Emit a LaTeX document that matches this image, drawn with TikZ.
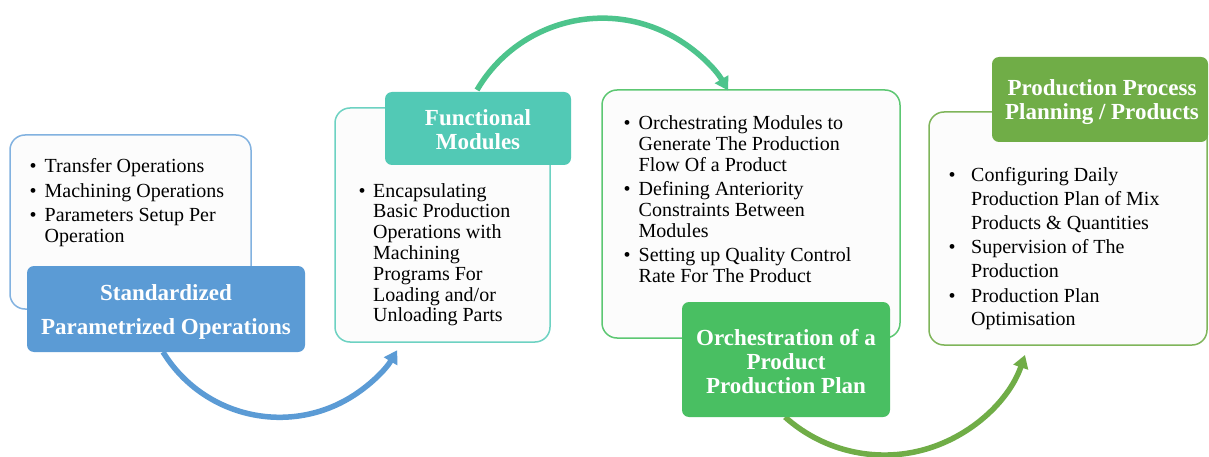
\documentclass[tikz,border=0pt]{standalone}
\usepackage{fontspec}
\setmainfont{Liberation Serif}
\usetikzlibrary{arrows.meta}
\definecolor{cblue}{HTML}{5B9BD5}
\definecolor{cblueline}{HTML}{82B2E0}
\definecolor{cteal}{HTML}{52C9B5}
\definecolor{ctealline}{HTML}{6DD2C2}
\definecolor{ctealarrow}{HTML}{4DC48C}
\definecolor{cgreen}{HTML}{49BF62}
\definecolor{cgreenline}{HTML}{5CC772}
\definecolor{colive}{HTML}{70AD47}
\definecolor{coliveline}{HTML}{7FB55A}
\definecolor{cardfill}{HTML}{FCFCFC}
\newcommand\bitem[2][15pt]{\par\hangindent=#1\hangafter=1\noindent\makebox[#1][l]{\textbullet}#2}
\newcommand\blist[4]{\parbox[t]{#1}{\fontsize{20}{#2}\selectfont\parskip=#3\relax\let\\\newline #4}}
\tikzset{
  card/.style={draw=#1, line width=1.5pt, fill=cardfill, rounded corners=15pt, inner sep=0pt},
  tag/.style={fill=#1, rounded corners=7pt, inner sep=0pt},
  tagtext/.style={text=white, align=center, inner sep=0pt, font={\bfseries\fontsize{23}{#1}\selectfont}},
  bullets/.style={anchor=base west, inner sep=0pt},
  flow/.style={draw=#1, line width=5.5pt, -{Triangle[length=13pt,width=15pt]}},
}
\begin{document}
\begin{tikzpicture}[x=1pt,y=-1pt]
\useasboundingbox (0,0) rectangle (1209,457);
\fill[white] (0,0) rectangle (1209,457);

% cards
\node[card=cblueline, minimum width=241pt, minimum height=174pt] (box1) at (130.5,222) {};
\node[card=ctealline, minimum width=215pt, minimum height=234pt] (box2) at (442.5,225) {};
\node[card=cgreenline, minimum width=298pt, minimum height=248pt] (box3) at (751,214) {};
\node[card=coliveline, minimum width=278pt, minimum height=233pt] (box4) at (1068,228.5) {};

% bullet texts
\node[bullets] (t1) at (29.5,172.5) {\blist{220pt}{21}{3.7pt}{%
\bitem{Transfer Operations}\bitem{Machining Operations}\bitem{Parameters Setup Per\\Operation}}};
\node[bullets] (t2) at (358.5,197) {\blist{200pt}{20.8}{0pt}{%
\bitem[14.5pt]{Encapsulating\\Basic Production\\Operations with\\Machining\\Programs For\\Loading and/or\\Unloading Parts}}};
\node[bullets] (t3) at (623.5,130) {\blist{270pt}{20.8}{3.3pt}{%
\bitem{Orchestrating Modules to\\Generate The Production\\Flow Of a Product}\bitem{Defining Anteriority\\Constraints Between\\Modules}\bitem{Setting up Quality Control\\Rate For The Product}}};
\node[bullets] (t4) at (948.5,182) {\blist{250pt}{24}{0pt}{%
\bitem[22.5pt]{Configuring Daily\\Production Plan of Mix\\Products \& Quantities}\bitem[22.5pt]{Supervision of The\\Production}\bitem[22.5pt]{Production Plan\\Optimisation}}};

% connectors
\coordinate (a1s) at (163,352);
\coordinate (a1e) at (397.3,350.2);
\coordinate (a2s) at (477,90);
\coordinate (a2e) at (728.1,90.5);
\coordinate (a3s) at (785,417);
\coordinate (a3e) at (1025,355);
\draw[flow=cblue] (a1s) arc[start angle=211.5, end angle=329.4, radius=136.7pt];
\draw[flow=ctealarrow] (a2s) arc[start angle=149.6, end angle=30.2, radius=145.4pt];
\draw[flow=colive] (a3s) arc[start angle=228.1, end angle=340.9, radius=148.8pt];

% tags
\node[tag=cblue, minimum width=278pt, minimum height=86pt] (tag1) at (166,309) {};
\node[tagtext=34.5] (l1) at (166,312) {Standardized\\Parametrized Operations};
\node[tag=cteal, minimum width=186pt, minimum height=73pt] (tag2) at (478,128.5) {};
\node[tagtext=24.5] (l2) at (478,129.5) {Functional\\Modules};
\node[tag=cgreen, minimum width=208pt, minimum height=115pt] (tag3) at (786,359.5) {};
\node[tagtext=24] (l3) at (786,361.5) {Orchestration of a\\Product\\Production Plan};
\node[tag=colive, minimum width=216pt, minimum height=85pt] (tag4) at (1100,99.5) {};
\node[tagtext=24] (l4) at (1102,102) {Production Process\\Planning / Products};
\end{tikzpicture}
\end{document}
